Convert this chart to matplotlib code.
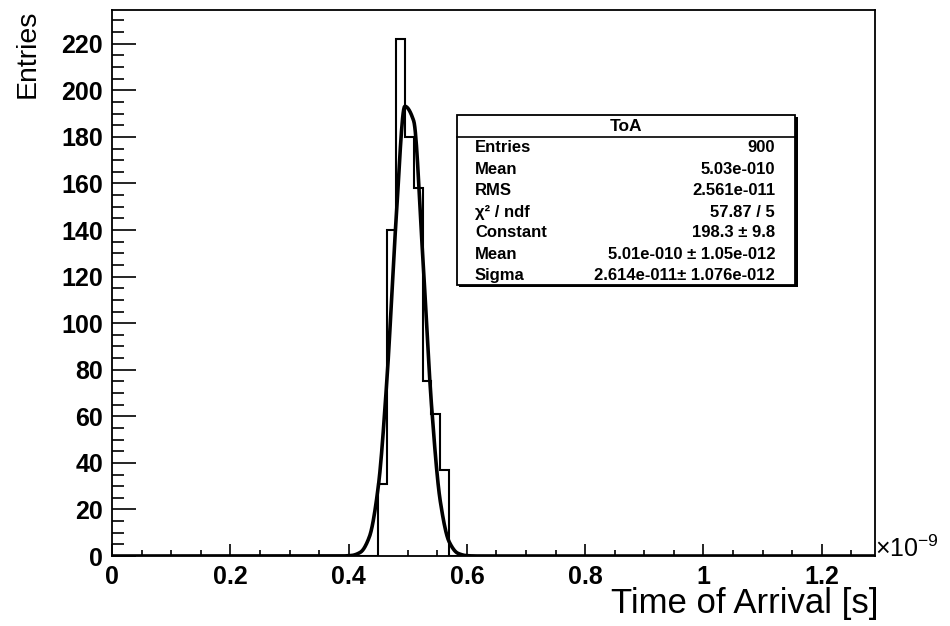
import numpy as np
import matplotlib
matplotlib.use("Agg")
import matplotlib.pyplot as plt
from matplotlib.ticker import MultipleLocator, FuncFormatter
from matplotlib.patches import Rectangle

plt.rcParams['font.family'] = ['Liberation Sans', 'DejaVu Sans']
plt.rcParams['mathtext.fontset'] = 'custom'
plt.rcParams['mathtext.rm'] = 'Liberation Sans'
plt.rcParams['mathtext.it'] = 'Liberation Sans:italic'

# ---- data (time in units of 1e-9 s) ----
bin_width = 0.015
x_max = 1.29
filled_bin_starts = [0.450, 0.465, 0.480, 0.495, 0.510, 0.525, 0.540, 0.555]
filled_bin_counts = [31, 140, 222, 180, 158, 75, 61, 37]

# Gaussian fit parameters (from the stats box)
fit_constant = 198.3
fit_mean = 0.501
fit_sigma = 0.02614

stats_labels = ["Entries", "Mean", "RMS", "\u03c7\u00b2 / ndf", "Constant", "Mean", "Sigma"]
stats_values = ["900", "5.03e-010", "2.561e-011", "57.87 / 5", "198.3 \u00b1 9.8",
                "5.01e-010 \u00b1 1.05e-012", "2.614e-011\u00b1 1.076e-012"]

x_ticks = [0, 0.2, 0.4, 0.6, 0.8, 1.0, 1.2]
y_ticks = list(range(0, 240, 20))

# ---- build full histogram ----
n_bins = int(round(x_max / bin_width))
edges = np.arange(n_bins + 1) * bin_width
counts = np.zeros(n_bins)
for s, c in zip(filled_bin_starts, filled_bin_counts):
    counts[int(round(s / bin_width))] = c

fig = plt.figure(figsize=(9.5, 6.26), dpi=100)
ax = fig.add_axes([0.118, 0.1118, 0.803, 0.8722])

ax.stairs(counts, edges, color='black', linewidth=1.5, baseline=0)

# fit curve: sampled at the bin spacing, joined with a monotone cubic (PCHIP)
xs = edges
ys = fit_constant * np.exp(-0.5 * ((xs - fit_mean) / fit_sigma) ** 2)
h = bin_width
delta = np.diff(ys) / h
d = np.zeros_like(ys)
d[0], d[-1] = delta[0], delta[-1]
for k in range(1, len(ys) - 1):
    a, b = delta[k - 1], delta[k]
    if a * b > 0:
        d[k] = 2.0 / (1.0 / a + 1.0 / b)
t = np.linspace(0, 1, 16, endpoint=False)
h00 = 2 * t**3 - 3 * t**2 + 1
h10 = t**3 - 2 * t**2 + t
h01 = -2 * t**3 + 3 * t**2
h11 = t**3 - t**2
cx, cy = [], []
for k in range(len(xs) - 1):
    cx.extend(xs[k] + t * h)
    cy.extend(h00 * ys[k] + h10 * h * d[k] + h01 * ys[k + 1] + h11 * h * d[k + 1])
cx.append(xs[-1]); cy.append(ys[-1])
ax.plot(cx, cy, color='black', linewidth=2.6, solid_joinstyle='round')

ax.set_xlim(0, x_max)
ax.set_ylim(0, 234.5)

ax.set_xticks(x_ticks)
ax.xaxis.set_major_formatter(FuncFormatter(lambda v, p: f"{v:g}"))
ax.xaxis.set_minor_locator(MultipleLocator(0.05))
ax.set_yticks(y_ticks)
ax.yaxis.set_minor_locator(MultipleLocator(5))

ax.tick_params(axis='x', which='major', direction='in', length=9, width=1.2,
               labelsize=18, pad=6.5, top=False)
ax.tick_params(axis='x', which='minor', direction='in', length=4.5, width=1.2, top=False)
ax.tick_params(axis='y', which='major', direction='in', length=17, width=1.2,
               labelsize=18, pad=6.5, right=False)
ax.tick_params(axis='y', which='minor', direction='in', length=8.5, width=1.2, right=False)
for lab in ax.get_xticklabels() + ax.get_yticklabels():
    lab.set_fontweight('bold')
for sp in ax.spines.values():
    sp.set_linewidth(1.3)

# axis titles
fig.text(0.925, 0.036, "Time of Arrival [s]", ha='right', va='center', fontsize=25)
fig.text(0.0295, 0.984, "Entries", ha='center', va='top', rotation=90, fontsize=20.5)
fig.text(0.921, 0.123, r"$\times$10$^{-9}$", ha='left', va='center', fontsize=18)

# stats box
x0, x1 = 0.481, 0.837
yb, yt = 0.5447, 0.8163
ysep = 0.7812
shadow = Rectangle((x0 + 0.0025, yb - 0.0035), x1 - x0, yt - yb, transform=fig.transFigure,
                   facecolor='black', edgecolor='none', zorder=5)
box = Rectangle((x0, yb), x1 - x0, yt - yb, transform=fig.transFigure,
                facecolor='white', edgecolor='black', linewidth=1.3, zorder=6)
fig.patches.extend([shadow, box])
fig.add_artist(plt.Line2D([x0, x1], [ysep, ysep], transform=fig.transFigure,
                          color='black', linewidth=1.2, zorder=7))
fig.text((x0 + x1) / 2, 0.7987, "ToA", ha='center', va='center',
         fontsize=12.5, fontweight='bold', zorder=8)
row_y = [0.7636, 0.7300, 0.6949, 0.6613, 0.6278, 0.5942, 0.5607]
for yy, lab, val in zip(row_y, stats_labels, stats_values):
    fig.text(0.500, yy, lab, ha='left', va='center', fontsize=12, fontweight='bold', zorder=8)
    fig.text(0.8158, yy, val, ha='right', va='center', fontsize=12, fontweight='bold', zorder=8)

fig.savefig("out.png", dpi=100)
